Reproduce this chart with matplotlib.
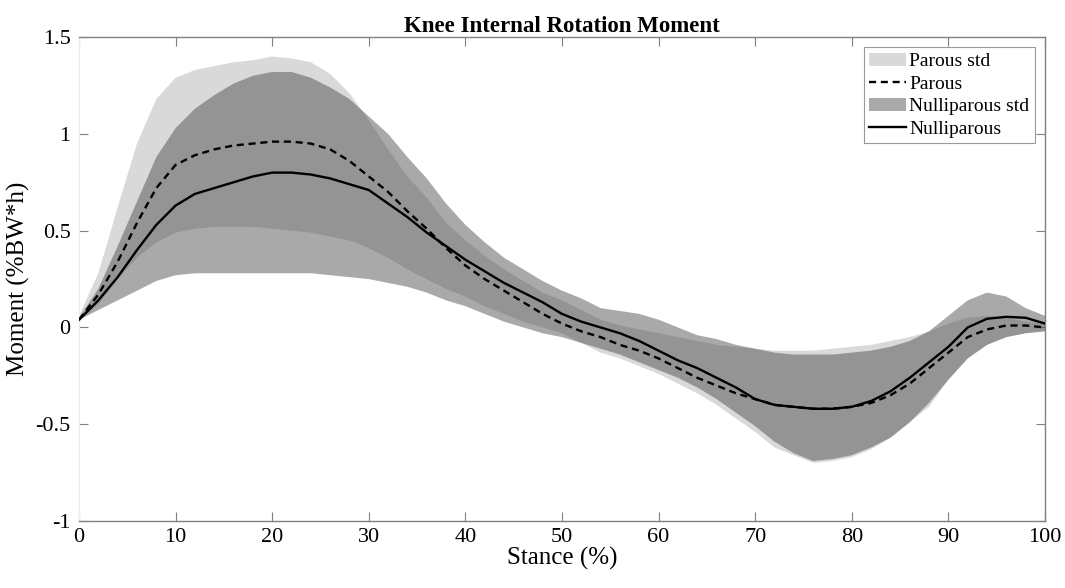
import matplotlib
matplotlib.use("Agg")
import matplotlib.pyplot as plt
import numpy as np

plt.rcParams["font.family"] = ["Liberation Serif", "DejaVu Serif"]
plt.rcParams["axes.unicode_minus"] = False

# stance phase, percent
stance = np.arange(0, 101, 2)

parous_mean = [0.04, 0.17, 0.34, 0.54, 0.72, 0.84, 0.89, 0.92, 0.94, 0.95,
               0.96, 0.96, 0.95, 0.92, 0.86, 0.78, 0.70, 0.60, 0.51, 0.41,
               0.32, 0.25, 0.19, 0.13, 0.07, 0.02, -0.02, -0.05, -0.09, -0.12,
               -0.16, -0.21, -0.26, -0.30, -0.34, -0.37, -0.40, -0.41, -0.42, -0.42,
               -0.41, -0.39, -0.35, -0.29, -0.21, -0.13, -0.05, -0.01, 0.01, 0.01,
               0.00]
parous_hi = [0.06, 0.28, 0.62, 0.95, 1.18, 1.29, 1.33, 1.35, 1.37, 1.38,
             1.40, 1.39, 1.37, 1.31, 1.21, 1.07, 0.92, 0.78, 0.67, 0.54,
             0.45, 0.37, 0.30, 0.24, 0.18, 0.14, 0.09, 0.04, 0.01, -0.01,
             -0.03, -0.05, -0.07, -0.09, -0.10, -0.11, -0.12, -0.12, -0.12, -0.11,
             -0.10, -0.09, -0.07, -0.05, -0.02, 0.02, 0.05, 0.06, 0.05, 0.03,
             0.02]
parous_lo = [0.03, 0.12, 0.25, 0.36, 0.44, 0.49, 0.51, 0.52, 0.52, 0.52,
             0.51, 0.50, 0.49, 0.47, 0.45, 0.41, 0.36, 0.30, 0.25, 0.20,
             0.16, 0.11, 0.07, 0.03, 0.00, -0.03, -0.08, -0.13, -0.16, -0.20,
             -0.24, -0.29, -0.34, -0.40, -0.47, -0.54, -0.62, -0.66, -0.70, -0.69,
             -0.67, -0.63, -0.57, -0.49, -0.41, -0.27, -0.16, -0.09, -0.05, -0.03,
             -0.02]

nullip_mean = [0.04, 0.14, 0.26, 0.40, 0.53, 0.63, 0.69, 0.72, 0.75, 0.78,
               0.80, 0.80, 0.79, 0.77, 0.74, 0.71, 0.64, 0.57, 0.49, 0.42,
               0.35, 0.29, 0.23, 0.18, 0.13, 0.07, 0.03, 0.00, -0.03, -0.07,
               -0.12, -0.17, -0.21, -0.26, -0.31, -0.37, -0.40, -0.41, -0.42, -0.42,
               -0.41, -0.38, -0.33, -0.26, -0.18, -0.10, 0.00, 0.045, 0.055, 0.05,
               0.02]
nullip_hi = [0.05, 0.20, 0.42, 0.65, 0.88, 1.03, 1.13, 1.20, 1.26, 1.30,
             1.32, 1.32, 1.29, 1.24, 1.18, 1.09, 1.00, 0.88, 0.77, 0.64,
             0.53, 0.44, 0.36, 0.30, 0.24, 0.19, 0.15, 0.10, 0.085, 0.07,
             0.04, 0.00, -0.04, -0.06, -0.09, -0.11, -0.13, -0.14, -0.14, -0.14,
             -0.13, -0.12, -0.10, -0.07, -0.02, 0.06, 0.14, 0.18, 0.16, 0.10,
             0.06]
nullip_lo = [0.04, 0.09, 0.14, 0.19, 0.24, 0.27, 0.28, 0.28, 0.28, 0.28,
             0.28, 0.28, 0.28, 0.27, 0.26, 0.25, 0.23, 0.21, 0.18, 0.14,
             0.11, 0.07, 0.03, 0.00, -0.03, -0.05, -0.08, -0.11, -0.14, -0.18,
             -0.22, -0.26, -0.31, -0.37, -0.44, -0.51, -0.59, -0.65, -0.69, -0.68,
             -0.66, -0.62, -0.57, -0.49, -0.39, -0.27, -0.16, -0.09, -0.05, -0.03,
             -0.02]

fig = plt.figure(figsize=(10.65, 5.88), dpi=100)
ax = fig.add_axes([0.0742, 0.1139, 0.907, 0.823])

edge = "#808080"

ax.fill_between(stance, parous_lo, parous_hi, facecolor="#d9d9d9",
                edgecolor="none", label="Parous std", zorder=1)
ax.plot(stance, parous_mean, color="black", lw=1.7, ls=(0, (3, 2)),
        label="Parous", zorder=4)
ax.fill_between(stance, nullip_lo, nullip_hi, facecolor="#404040", alpha=0.45,
                edgecolor="none", label="Nulliparous std", zorder=2)
ax.plot(stance, nullip_mean, color="black", lw=1.7, label="Nulliparous", zorder=5)

ax.set_xlim(0, 100)
ax.set_ylim(-1, 1.5)
ax.set_xticks(np.arange(0, 101, 10))
ax.set_yticks([-1, -0.5, 0, 0.5, 1, 1.5])
ax.set_yticklabels(["-1", "-0.5", "0", "0.5", "1", "1.5"])

ax.tick_params(direction="in", length=6.5, width=0.8, color=edge,
               labelsize=16, top=True, right=True)
ax.tick_params(axis="x", pad=5)
ax.tick_params(axis="y", pad=6)
for side in ["top", "right", "bottom"]:
    ax.spines[side].set_color(edge)
    ax.spines[side].set_linewidth(1.0)
ax.spines["left"].set_color("#ececec")

ax.set_title("Knee Internal Rotation Moment", fontsize=16.5, fontweight="bold", pad=4)
ax.set_xlabel("Stance (%)", fontsize=18, labelpad=0)
ax.set_ylabel("Moment (%BW*h)", fontsize=18, labelpad=4)

leg = ax.legend(loc="upper right", bbox_to_anchor=(0.99, 0.98), fontsize=14,
                frameon=True, fancybox=False, borderpad=0.3, labelspacing=0.25,
                handlelength=1.9, handletextpad=0.15, borderaxespad=0)
leg.get_frame().set_edgecolor(edge)
leg.get_frame().set_linewidth(0.8)

fig.savefig("out.png", dpi=100)
